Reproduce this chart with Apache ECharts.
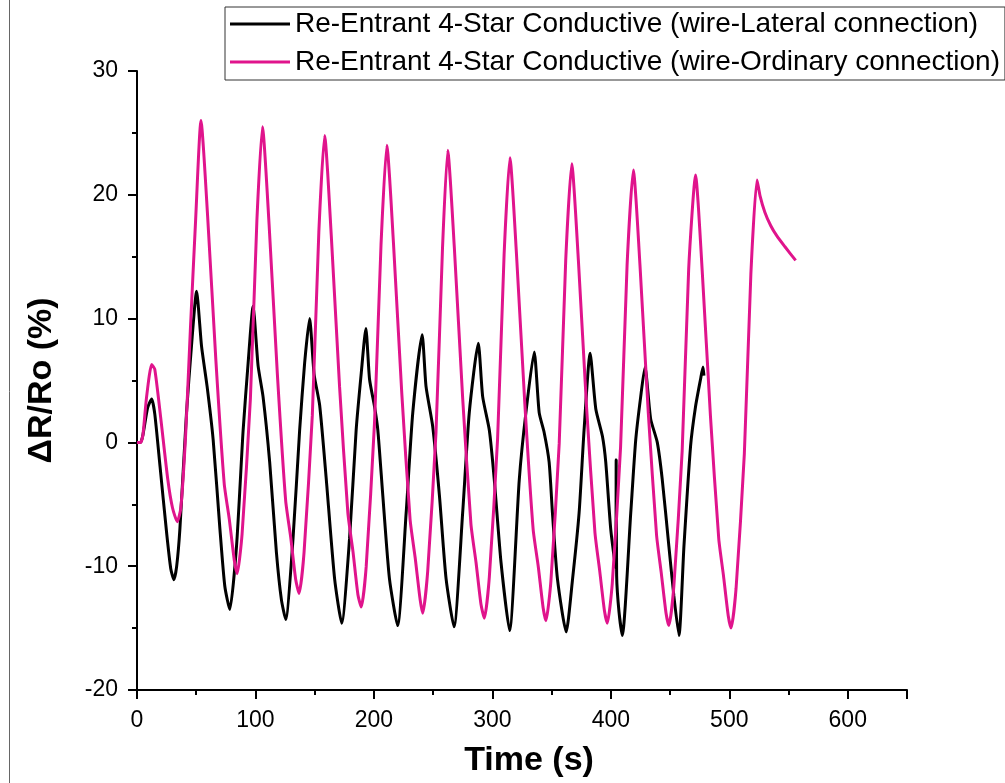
<!DOCTYPE html>
<html>
<head>
<meta charset="utf-8">
<script src="https://cdn.jsdelivr.net/npm/echarts@6/dist/echarts.min.js"></script>
<style>
  html, body { margin: 0; padding: 0; background: #fff; }
  #chart { width: 1005px; height: 783px; }
</style>
</head>
<body>
<div id="chart"></div>
<script>
// Series names
const seriesNames = [
  'Re-Entrant 4-Star Conductive (wire-Lateral connection)',
  'Re-Entrant 4-Star Conductive (wire-Ordinary connection)'
];

// Axis titles
const xTitle = 'Time (s)';
const yTitle = '\u0394R/Ro (%)';

// Lateral connection: [time (s), ΔR/Ro (%)]
const lateral = [
  [0,0],[3,0],[5,0.6],[9,2.8],[12.4,3.5],[15,2.3],[19.4,-1.9],[25,-7.3],[28.5,-10.2],[31.2,-11.1],[33.5,-10],[36.2,-7.0],[41.8,2.4],[46,7.8],[50.3,12.2],
  [54.5,7.75],[59.2,4.5],[64.3,0.2],[70,-7],[74.1,-11.6],[78.3,-13.5],
  [84,-8.4],[89.6,1.0],[93.8,6.4],[98,11.0],
  [102.2,6.2],[106.4,3.7],[112,-1.6],[117.7,-8.9],[121.9,-12.7],[125.5,-14.3],
  [131.7,-7.8],[137.3,1.0],[141.5,6.4],[145.7,10.0],
  [149.5,5.5],[154.2,3.0],[159.8,-3.0],[166.8,-11.0],[172.8,-14.6],
  [179.4,-7.8],[185,1.0],[189.3,5.6],[193.2,9.2],
  [196.3,5.1],[200.5,2.9],[203.3,1.0],[207.5,-4.3],[213.1,-11.0],[220,-14.8],
  [227.2,-5.7],[232.8,2.4],[240.7,8.7],
  [244,4.5],[249.6,1.3],[255.3,-4.3],[260.9,-11.0],[267.6,-14.9],
  [274.9,-5.7],[280.5,2.4],[288.1,8.0],
  [291.8,3.7],[297.4,1.0],[301.6,-3.0],[307.3,-9.7],[314.5,-15.2],
  [322.7,-3.0],[328.3,2.4],[335.3,7.3],
  [339.5,2.4],[343.7,0.8],[347.9,-1.6],[350.7,-5.7],[354.9,-11.0],[362.3,-15.3],
  [367.5,-11.2],[373.2,-5.7],[377.4,1.0],[382.5,7.2],
  [387.3,2.7],[392.9,0.5],[395.7,-1.6],[399.9,-7.0],[404.1,-10.2],[404.5,-1.4],[404.9,-10.8],[406.9,-13.7],[409.7,-15.6],
  [416.8,-5.7],[421,0.2],[425.2,3.7],[428.8,6.1],
  [433.6,1.9],[439.2,0],[443.4,-3.0],[449,-8.4],[453.2,-12.4],[457.5,-15.6],
  [461.7,-8.4],[467.3,-0.3],[471.5,2.9],[475.7,5.1],[477.8,6.1],[478.6,5.4]
];

// Ordinary connection: [time (s), ΔR/Ro (%)]
const ordinary = [
  [0,0],[3,0],[5,0.6],[8,3.6],[12.4,6.3],[15,5.9],[20,2.0],[26,-3.0],[30,-5.3],[34,-6.4],[37,-5.3],[41,0.5],[45,9],[49.5,18],[54,26.0],
  [59.6,18.3],[66.6,6.6],[73.6,-3.3],[77.9,-6.2],[82.1,-9.5],[84.5,-10.6],
  [88.7,-7.4],[95.7,3.5],[101.2,17.9],[105.9,25.5],
  [111.5,17.6],[118.5,5.5],[125.5,-4.7],[129.8,-7.7],[134,-11.1],[136.8,-12.2],
  [141,-8.9],[148,2.2],[153.5,17.0],[158.4,24.8],
  [164,16.7],[171,4.5],[178,-5.7],[182.3,-8.8],[186.5,-12.3],[189.3,-13.3],
  [193.5,-10],[200.5,1.6],[206,16],[210.9,24.0],
  [216.5,16.1],[223.5,4.0],[230.5,-6.2],[234.8,-9.3],[239,-12.7],[241.2,-13.8],
  [245.4,-10.4],[252.4,0.8],[257.9,15.7],[262.3,23.6],
  [267.9,15.7],[274.9,3.6],[281.9,-6.6],[286.2,-9.7],[290.4,-13.1],[293.2,-14.2],
  [297.4,-10.9],[304.4,0.3],[309.9,15.2],[314.8,23.0],
  [320.4,15.1],[327.4,3.1],[334.4,-7.0],[338.7,-10.0],[342.9,-13.4],[345.2,-14.4],
  [349.4,-11.2],[356.4,-0.1],[361.9,14.7],[367,22.5],
  [372.6,14.7],[379.6,2.7],[386.6,-7.3],[390.5,-10.3],[394.6,-13.6],[397,-14.6],
  [401.2,-11.4],[408.2,-0.4],[413.7,14.3],[419,22.0],
  [424.6,14.3],[431.6,2.4],[438.6,-7.5],[442.5,-10.5],[446.6,-13.8],[449,-14.8],
  [453.2,-11.6],[460.2,-0.7],[465.7,14.0],[471.5,21.6],
  [477.1,13.9],[484.1,2.1],[491.1,-7.8],[495,-10.7],[499.1,-14.0],[501.5,-15.0],
  [505.7,-11.8],[512.7,-0.9],[518.2,13.6],[523.4,21.2],
  [526,19.9],[530,18.6],[535,17.5],[540,16.7],[547,15.8],[556,14.7]
];

const FONT = '"Liberation Sans", Arial, sans-serif';
const BLACK = '#000000';
const MAGENTA = '#E0148C';
const chart = echarts.init(document.getElementById('chart'), null, { renderer: 'canvas' });

const axisCommon = {
  type: 'value',
  axisLine: { show: true, onZero: false, lineStyle: { color: '#000', width: 2 } },
  axisTick: { show: true, inside: false, length: 9, lineStyle: { color: '#000', width: 2 } },
  minorTick: { show: true, splitNumber: 2, length: 5, lineStyle: { color: '#000', width: 2 } },
  splitLine: { show: false },
  axisLabel: { color: '#000', fontSize: 23, fontFamily: FONT, margin: 19 },
  nameTextStyle: { color: '#000', fontSize: 34, fontWeight: 'bold', fontFamily: FONT },
  nameLocation: 'middle'
};

chart.setOption({
  animation: false,
  backgroundColor: '#fff',
  grid: { left: 137, right: 98, top: 71, bottom: 92, containLabel: false },
  graphic: [
    { type: 'line', shape: { x1: 9.5, y1: 0, x2: 9.5, y2: 783 }, style: { stroke: '#666', lineWidth: 1 } }
  ],
  legend: {
    orient: 'vertical',
    left: 225,
    top: 7,
    padding: [3, 5, 4, 5],
    itemGap: 10,
    itemWidth: 60,
    itemHeight: 3,
    icon: 'rect',
    borderColor: '#333',
    borderWidth: 1,
    backgroundColor: '#fff',
    textStyle: { color: '#000', fontSize: 28, fontFamily: FONT },
    data: seriesNames
  },
  xAxis: Object.assign({}, axisCommon, {
    min: 0, max: 650, interval: 100,
    name: xTitle, nameGap: 54,
    nameTextStyle: Object.assign({}, axisCommon.nameTextStyle, { padding: [0, 0, 0, 14] }),
    axisLabel: Object.assign({}, axisCommon.axisLabel, { showMaxLabel: false })
  }),
  yAxis: Object.assign({}, axisCommon, {
    min: -20, max: 30, interval: 10,
    name: yTitle, nameGap: 78
  }),
  series: [
    {
      name: seriesNames[0], type: 'line', data: lateral,
      showSymbol: false, symbol: 'none', smooth: 0.2,
      color: BLACK, lineStyle: { color: BLACK, width: 3 }
    },
    {
      name: seriesNames[1], type: 'line', data: ordinary,
      showSymbol: false, symbol: 'none', smooth: 0.2,
      color: MAGENTA, lineStyle: { color: MAGENTA, width: 3 }
    }
  ]
});
</script>
</body>
</html>
